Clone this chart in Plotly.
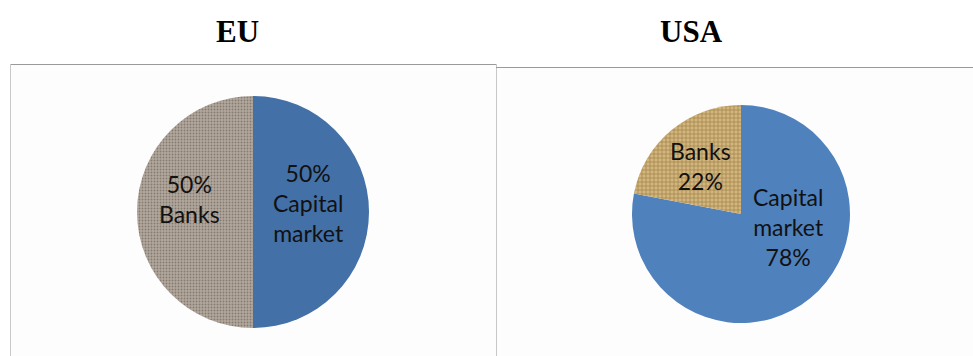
import plotly.graph_objects as go

W, H = 973, 356

# Data
eu_labels = ["Capital market", "Banks"]
eu_values = [50, 50]
eu_label_lines = ["Capital<br>market", "Banks"]

usa_labels = ["Capital market", "Banks"]
usa_values = [78, 22]
usa_label_lines = ["Capital<br>market", "Banks"]

titles = ["EU", "USA"]


def px_x(v):
    return v / W


def px_y(v):
    return 1 - v / H


def pct(vals, i):
    return "%d%%" % round(100 * vals[i] / sum(vals))


fig = go.Figure()

fig.add_trace(go.Pie(
    labels=eu_labels, values=eu_values, sort=False, direction="clockwise", rotation=0,
    textinfo="none",
    marker=dict(colors=["#4370A6", "#A99F95"],
                pattern=dict(shape=["", "."], fgcolor=["#4370A6", "#857A70"],
                             bgcolor=["#4370A6", "#B2A89E"], size=3, solidity=0.3),
                line=dict(width=0)),
    domain=dict(x=[px_x(137), px_x(369)], y=[px_y(328), px_y(96)]),
    hoverinfo="label+percent", showlegend=False,
))

fig.add_trace(go.Pie(
    labels=usa_labels, values=usa_values, sort=False, direction="clockwise", rotation=0,
    textinfo="none",
    marker=dict(colors=["#4F81BD", "#C5A66C"],
                pattern=dict(shape=["", "+"], fgcolor=["#4F81BD", "#9C7D45"],
                             bgcolor=["#4F81BD", "#D3B67E"], size=4, solidity=0.3),
                line=dict(width=0)),
    domain=dict(x=[px_x(632), px_x(850)], y=[px_y(323), px_y(105)]),
    hoverinfo="label+percent", showlegend=False,
))

shapes = [
    # left panel
    dict(type="rect", xref="paper", yref="paper", x0=px_x(10), x1=px_x(496), y0=px_y(360), y1=px_y(64),
         fillcolor="#FDFDFD", line=dict(width=0), layer="below"),
    dict(type="line", xref="paper", yref="paper", x0=px_x(10), x1=px_x(496), y0=px_y(64.5), y1=px_y(64.5),
         line=dict(color="#9A9A9A", width=1)),
    dict(type="line", xref="paper", yref="paper", x0=px_x(10.5), x1=px_x(10.5), y0=px_y(64), y1=px_y(360),
         line=dict(color="#C8C8C8", width=1)),
    dict(type="line", xref="paper", yref="paper", x0=px_x(496.5), x1=px_x(496.5), y0=px_y(64), y1=px_y(360),
         line=dict(color="#C8C8C8", width=1)),
    # right panel
    dict(type="rect", xref="paper", yref="paper", x0=px_x(497), x1=px_x(973), y0=px_y(360), y1=px_y(67.5),
         fillcolor="#FDFDFD", line=dict(width=0), layer="below"),
    dict(type="line", xref="paper", yref="paper", x0=px_x(496), x1=px_x(973), y0=px_y(67.5), y1=px_y(67.5),
         line=dict(color="#9A9A9A", width=1)),
]

title_font = dict(family="Liberation Serif, Times New Roman, serif", size=31, color="#000")
label_font = dict(family="Lato, Carlito, 'Open Sans', sans-serif", size=23, color="#111111")

annotations = [
    dict(text="<b>" + titles[0] + "</b>", x=px_x(237), y=px_y(31), font=title_font),
    dict(text="<b>" + titles[1] + "</b>", x=px_x(691), y=px_y(31), font=title_font),
    # slice labels (text from data)
    dict(text=pct(eu_values, 0) + "<br>" + eu_label_lines[0], x=px_x(308), y=px_y(203), font=label_font),
    dict(text=pct(eu_values, 1) + "<br>" + eu_label_lines[1], x=px_x(189), y=px_y(199), font=label_font),
    dict(text=usa_label_lines[0] + "<br>" + pct(usa_values, 0), x=px_x(788), y=px_y(227), font=label_font),
    dict(text=usa_label_lines[1] + "<br>" + pct(usa_values, 1), x=px_x(700), y=px_y(166), font=label_font),
]
for a in annotations:
    a.update(xref="paper", yref="paper", showarrow=False, xanchor="center", yanchor="middle")

fig.update_layout(
    width=W, height=H, margin=dict(l=0, r=0, t=0, b=0),
    paper_bgcolor="white", plot_bgcolor="white",
    shapes=shapes, annotations=annotations, showlegend=False,
)

fig.write_html("out.html", config={"displayModeBar": False},
               post_script="document.body.style.margin='0';document.body.style.overflow='hidden';")
